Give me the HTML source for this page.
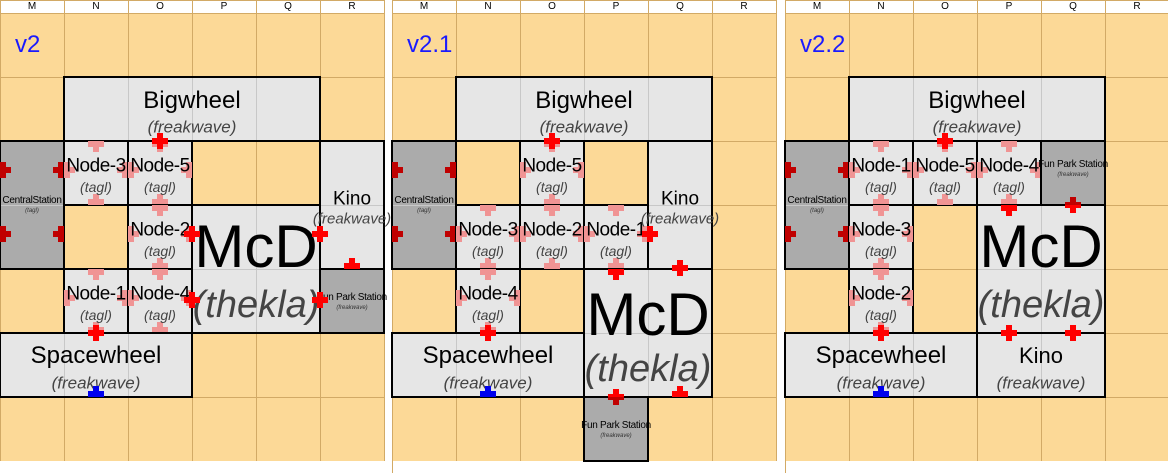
<!DOCTYPE html>
<html><head><meta charset="utf-8">
<style>
body{margin:0;width:1168px;height:473px;overflow:hidden;background:#fff;position:relative;font-family:"Liberation Sans",sans-serif}
div{position:absolute;box-sizing:border-box}
.t{white-space:nowrap;transform:translate(-50%,-50%);line-height:1}
</style></head><body>
<script>
const B=document.body;
function d(x,y,w,h,st){const e=document.createElement('div');e.style.cssText=`left:${x}px;top:${y}px;width:${w}px;height:${h}px;`+(st||'');B.appendChild(e);return e;}
function t(x,y,s,size,ital,col,extra){const e=document.createElement('div');e.className='t';e.style.cssText=`left:${x}px;top:${y}px;font-size:${size}px;color:${col||'#000'};`+(ital?'font-style:italic;':'')+(extra||'');e.textContent=s;B.appendChild(e);}
const TAN='#fcd997',GL='#d2aa66';
const P=[0,392,785];
function X(p,c){return P[p]+c*64}
function Y(r){return 13+r*64}
function plus(cx,cy,col,clip){
  const c=clip||[cx-20,cy-20,cx+20,cy+20];
  const rects=[[cx-8,cy-3,16,6],[cx-3,cy-8,6,16]];
  for(const [x,y,w,h] of rects){
    const x1=Math.max(x,c[0]),y1=Math.max(y,c[1]),x2=Math.min(x+w,c[2]),y2=Math.min(y+h,c[3]);
    if(x2>x1&&y2>y1)d(x1,y1,x2-x1,y2-y1,'background:'+col);
  }
}
const PINK='#f09494',RED='#ff0000',DRED='#c00000',BLUE='#0000ee';
P.forEach((px,i)=>{
  d(px,13,384,448,'background:'+TAN);
  for(let k=0;k<=6;k++){d(px+k*64,13,1,448,'background:'+GL);d(px,13+k*64,384,1,'background:'+GL);}
  d(px,0,384,1,'background:'+GL);d(px,13,384,1,'background:'+GL);
  ['M','N','O','P','Q','R'].forEach((l,k)=>{d(px+k*64,0,1,13,'background:'+GL);t(px+k*64+32,7,l,10,0,'#000');});
  d(px+384,0,1,13,'background:'+GL);
});
d(392,461,1,12,'background:'+GL);d(785,461,1,12,'background:'+GL);
function box(p,c,r,w,h,dark){
  const x=X(p,c),y=Y(r);
  d(x-1,y-1,w*64+2,h*64+2,'border:2px solid #000;background:'+(dark?'#ababab':'#e6e6e6'));
  for(let i=1;i<w;i++)d(x+i*64,y+1,1,h*64-2,'background:#c8c8c8');
  for(let j=1;j<h;j++)d(x+1,y+j*64,w*64-2,1,'background:#c8c8c8');
  return [x,y,x+w*64,y+h*64];
}
function node(p,c,r,name){
  const b=box(p,c,r,1,1);const [x,y]=b;
  plus(x+32,y+3,PINK,b);plus(x+32,y+61,PINK,b);plus(x+3,y+29,PINK,b);plus(x+61,y+29,PINK,b);
  t(x+32,y+25,name,19,0,'#000','letter-spacing:-0.5px');
  t(x+32,y+46,'(tagl)',14,1,'#444');
}
function big(p,c,r,w,h,name,sub,ns,ss,ny,sy){
  const b=box(p,c,r,w,h);const x=b[0],y=b[1];
  t(x+w*32,y+ny,name,ns,0,'#000');t(x+w*32,y+sy,sub,ss,1,'#444');return b;
}
function station(p,c,r,h,name,sub,ny){
  const b=box(p,c,r,1,h,true);const x=b[0],y=b[1];
  t(x+32,y+ny,name,10,0,'#000','letter-spacing:-0.3px');t(x+32,y+ny+10,sub,6,1,'#333');return b;
}
function central(p){
  const b=station(p,0,2,2,'CentralStation','(tagl)',60);
  const x=b[0];
  [Y(2)+29,Y(3)+29].forEach(yy=>{plus(x+3,yy,DRED,b);plus(x+61,yy,DRED,b);});
}
function vlabel(p,s){const e=document.createElement('div');e.style.cssText=`left:${X(p,0)+15}px;top:33px;font-size:24px;color:#1a1aff;line-height:1;white-space:nowrap`;e.textContent=s;B.appendChild(e);}
// ---- Panel 1
vlabel(0,'v2');
big(0,1,1,4,1,'Bigwheel','(freakwave)',24,17,24,50);
central(0);
node(0,1,2,'Node-3');node(0,2,2,'Node-5');node(0,2,3,'Node-2');node(0,1,4,'Node-1');node(0,2,4,'Node-4');
big(0,3,3,2,2,'McD','(thekla)',60,38,42,100);
big(0,5,2,1,2,'Kino','(freakwave)',19,15,58,78);
station(0,5,4,1,'Fun Park Station','(freakwave)',29);
big(0,0,5,3,1,'Spacewheel','(freakwave)',24,17,23,50);
plus(160,141,RED);plus(192,234,RED);plus(320,234,RED);plus(192,300,RED);plus(320,300,RED);
plus(352,266,RED,[0,0,999,269]);plus(96,333,RED);plus(96,394,BLUE,[0,0,999,397]);
// ---- Panel 2
vlabel(1,'v2.1');
big(1,1,1,4,1,'Bigwheel','(freakwave)',24,17,24,50);
central(1);
node(1,2,2,'Node-5');node(1,1,3,'Node-3');node(1,2,3,'Node-2');node(1,3,3,'Node-1');node(1,1,4,'Node-4');
big(1,4,2,1,2,'Kino','(freakwave)',19,15,58,78);
big(1,3,4,2,2,'McD','(thekla)',60,38,46,100);
big(1,0,5,3,1,'Spacewheel','(freakwave)',24,17,23,50);
station(1,3,6,1,'Fun Park Station','(freakwave)',29);
plus(552,141,RED);plus(650,234,RED);plus(616,272,RED,[0,269,9999,999]);plus(680,268,RED);
plus(616,397,RED,[0,0,9999,397]);plus(616,397,DRED,[0,397,9999,999]);plus(680,394,RED,[0,0,9999,397]);
plus(488,333,RED);plus(488,394,BLUE,[0,0,9999,397]);
// ---- Panel 3
vlabel(2,'v2.2');
big(2,1,1,4,1,'Bigwheel','(freakwave)',24,17,24,50);
central(2);
node(2,1,2,'Node-1');node(2,2,2,'Node-5');node(2,3,2,'Node-4');node(2,1,3,'Node-3');node(2,1,4,'Node-2');
station(2,4,2,1,'Fun Park Station','(freakwave)',24);
big(2,3,3,2,2,'McD','(thekla)',60,38,42,100);
big(2,0,5,3,1,'Spacewheel','(freakwave)',24,17,23,50);
big(2,3,5,2,1,'Kino','(freakwave)',22,17,23,50);
plus(945,141,RED);plus(1073,205,DRED,[0,0,9999,205]);plus(1073,205,RED,[0,205,9999,999]);
plus(1009,208,RED,[0,205,9999,999]);plus(1009,333,RED);plus(1073,333,RED);plus(881,333,RED);
plus(881,394,BLUE,[0,0,9999,397]);
</script>
</body></html>
